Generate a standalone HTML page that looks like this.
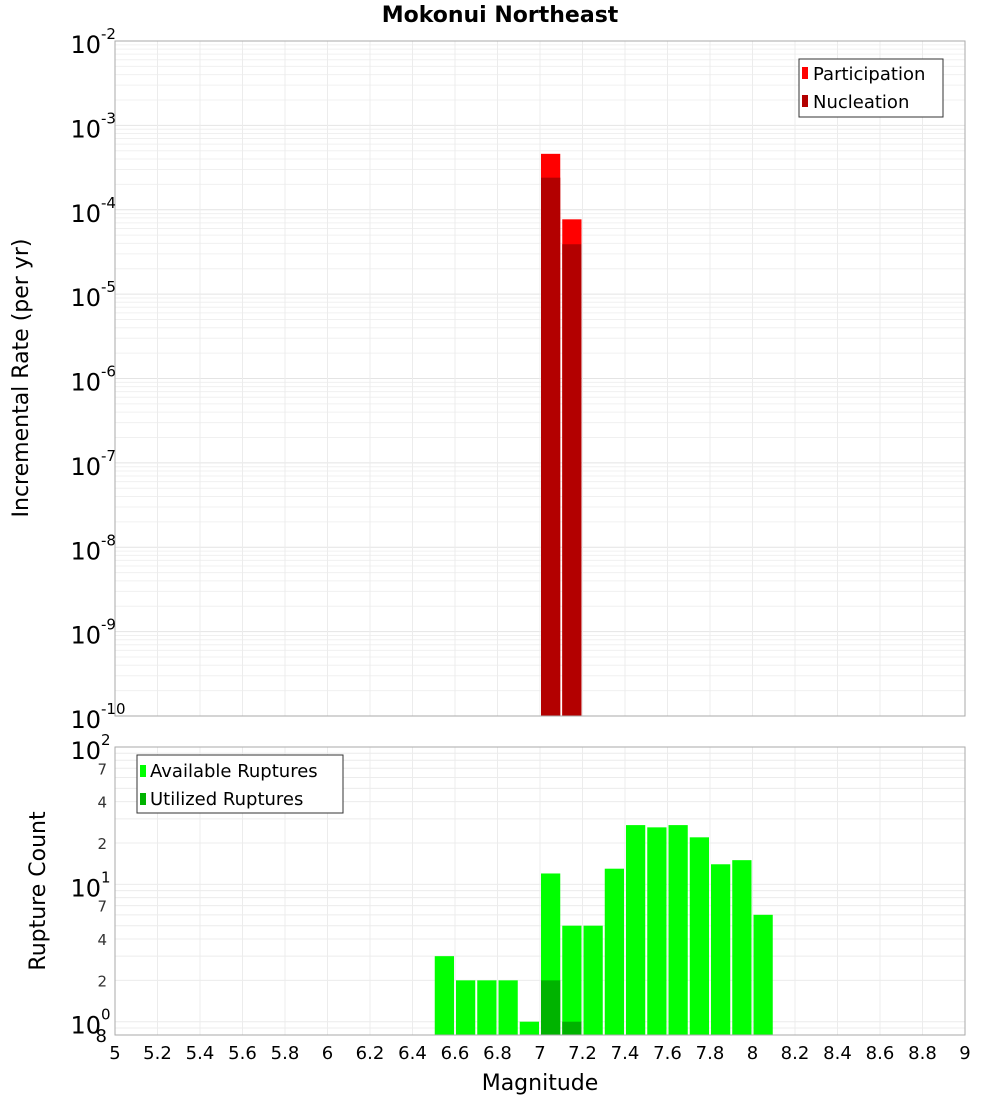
<!DOCTYPE html>
<html><head><meta charset="utf-8"><style>
body{margin:0;background:#fff;font-family:"DejaVu Sans","Liberation Sans",sans-serif}
svg text{font-family:"DejaVu Sans","Liberation Sans",sans-serif}
</style></head><body>
<svg id="c" width="1000" height="1100" xmlns="http://www.w3.org/2000/svg">
<text x="500" y="22" text-anchor="middle" font-size="22" font-weight="bold">Mokonui Northeast</text>
<g id="topg"></g>
<g id="botg"></g>
</svg>
<script>
const binCenters=[6.55,6.65,6.75,6.85,6.95,7.05,7.15,7.25,7.35,7.45,7.55,7.65,7.75,7.85,7.95,8.05];
const available=[3,2,2,2,1,12,5,5,13,27,26,27,22,14,15,6];
const utilizedMags=[7.05,7.15];
const utilized=[2,1];
const rateMags=[7.05,7.15];
const participation=[4.6e-4,7.7e-5];
const nucleation=[2.4e-4,3.9e-5];
const xTicks=[5,5.2,5.4,5.6,5.8,6,6.2,6.4,6.6,6.8,7,7.2,7.4,7.6,7.8,8,8.2,8.4,8.6,8.8,9];
const topExps=[-10,-9,-8,-7,-6,-5,-4,-3,-2];

const NS="http://www.w3.org/2000/svg";
function mk(p,tag,a){const e=document.createElementNS(NS,tag);for(const k in a)e.setAttribute(k,a[k]);p.appendChild(e);return e;}
const L=115,R=965;
const X=v=>L+(v-5)/(9-5)*(R-L);
const TT=41,TB=716;
const YT=v=>TB-(Math.log10(v)+10)/8*(TB-TT);
const BT=747,BB=1035,bMin=0.8,bMax=100;
const YB=v=>BB-(Math.log10(v)-Math.log10(bMin))/(Math.log10(bMax)-Math.log10(bMin))*(BB-BT);
const topG=document.getElementById('topg'),botG=document.getElementById('botg');

for(let e=-10;e<-2;e++)for(let m=1;m<10;m++){const y=YT(m*Math.pow(10,e));
 const l=mk(topG,'line',{x1:L,x2:R,y1:y,y2:y,stroke:m==1?'#e4e4e4':'#f0f0f0','stroke-width':1});
 
 }
xTicks.forEach(t=>{const x=X(t);const l=mk(topG,'line',{x1:x,x2:x,y1:TT,y2:TB,stroke:'#ececec'});
 
 
 const l2=mk(botG,'line',{x1:x,x2:x,y1:BT,y2:BB,stroke:'#ececec'});
 
 });
rateMags.forEach((m,i)=>{
 const x0=X(m-0.05)+1,x1=X(m+0.05)-1;
 const p=mk(topG,'rect',{x:x0,y:YT(participation[i]),width:x1-x0,height:TB-YT(participation[i]),fill:'#ff0000'});
 
 
 const n=mk(topG,'rect',{x:x0,y:YT(nucleation[i]),width:x1-x0,height:TB-YT(nucleation[i]),fill:'#b30000'});
 
 });
mk(topG,'rect',{x:L,y:TT,width:R-L,height:TB-TT,fill:'none',stroke:'#aaa'});
topExps.forEach(e=>{const y=YT(Math.pow(10,e));
 const t=mk(topG,'text',{x:101,y:y+12,'text-anchor':'end','font-size':24});t.textContent='10';
 
 
 const s=mk(topG,'text',{x:101,y:y-2,'font-size':15});s.textContent=String(e);
 
 });
const yt=mk(topG,'text',{x:28,y:378,'text-anchor':'middle','font-size':22,transform:'rotate(-90 28 378)'});yt.textContent='Incremental Rate (per yr)';


const lg=mk(topG,'g',{});


mk(lg,'rect',{x:799,y:59,width:144,height:58,fill:'#fff',stroke:'#333'});
mk(lg,'rect',{x:802,y:67,width:6,height:12,fill:'#ff0000'});
mk(lg,'rect',{x:802,y:95,width:6,height:12,fill:'#b30000'});
let t1=mk(lg,'text',{x:813,y:80,'font-size':18});t1.textContent='Participation';


let t2=mk(lg,'text',{x:813,y:108,'font-size':18});t2.textContent='Nucleation';



[0.8,0.9,1,2,3,4,5,6,7,8,9,10,20,30,40,50,60,70,80,90,100].forEach(v=>{const y=YB(v);
 const l=mk(botG,'line',{x1:L,x2:R,y1:y,y2:y,stroke:'#ececec'});
 
 });
binCenters.forEach((m,i)=>{const x0=X(m-0.05)+1,x1=X(m+0.05)-1;
 const r=mk(botG,'rect',{x:x0,y:YB(available[i]),width:x1-x0,height:BB-YB(available[i]),fill:'#00ff00'});
 
 });
utilizedMags.forEach((m,i)=>{const x0=X(m-0.05)+1,x1=X(m+0.05)-1;
 const r=mk(botG,'rect',{x:x0,y:YB(utilized[i]),width:x1-x0,height:BB-YB(utilized[i]),fill:'#00b300'});
 
 });
mk(botG,'rect',{x:L,y:BT,width:R-L,height:BB-BT,fill:'none',stroke:'#aaa'});
[[1,'0'],[10,'1'],[100,'2']].forEach(([v,e])=>{const y=YB(v);
 const t=mk(botG,'text',{x:101,y:y+12,'text-anchor':'end','font-size':24});t.textContent='10';
 
 
 const s=mk(botG,'text',{x:101,y:y-2,'font-size':15});s.textContent=e;
 
 });
[[2,'2'],[4,'4'],[7,'7'],[20,'2'],[40,'4'],[70,'7']].forEach(([v,s])=>{const t=mk(botG,'text',{x:107,y:YB(v)+6,'text-anchor':'end','font-size':15,fill:'#333'});t.textContent=s;
 
 });
let e8=mk(botG,'text',{x:107,y:1042,'text-anchor':'end','font-size':18});e8.textContent='8';


const yb=mk(botG,'text',{x:45,y:891,'text-anchor':'middle','font-size':22,transform:'rotate(-90 45 891)'});yb.textContent='Rupture Count';


xTicks.forEach(t=>{const x=X(t);const s=mk(botG,'text',{x:x,y:1059,'text-anchor':'middle','font-size':18});s.textContent=String(t);
 
 });
const xt=mk(botG,'text',{x:540,y:1090,'text-anchor':'middle','font-size':22});xt.textContent='Magnitude';


const lb=mk(botG,'g',{});


mk(lb,'rect',{x:137,y:755,width:206,height:58,fill:'#fff',stroke:'#333'});
mk(lb,'rect',{x:140,y:765,width:6,height:12,fill:'#00ff00'});
mk(lb,'rect',{x:140,y:793,width:6,height:12,fill:'#00b300'});
let t3=mk(lb,'text',{x:150,y:777,'font-size':18});t3.textContent='Available Ruptures';


let t4=mk(lb,'text',{x:150,y:805,'font-size':18});t4.textContent='Utilized Ruptures';


</script>
</body></html>
